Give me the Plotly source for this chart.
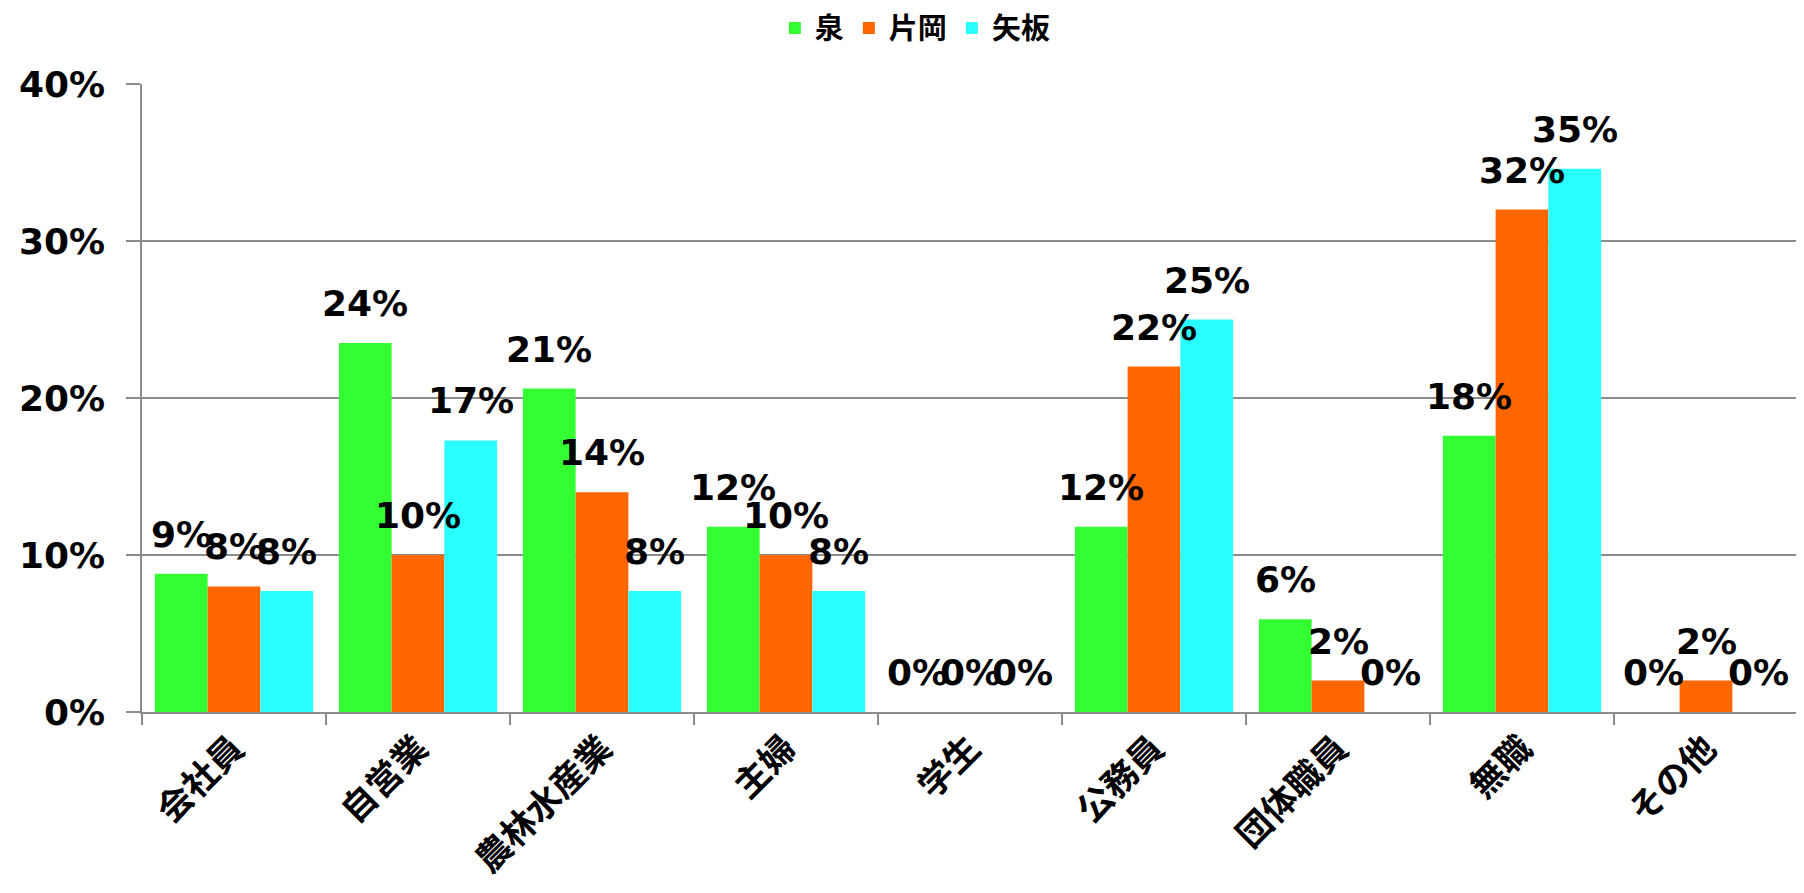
import plotly.graph_objects as go

# occupations (x categories) and share of respondents per area
categories = ["会社員", "自営業", "農林水産業", "主婦", "学生", "公務員", "団体職員", "無職", "その他"]
series_names = ["泉", "片岡", "矢板"]
izumi = [0.088, 0.235, 0.206, 0.118, 0.0, 0.118, 0.059, 0.176, 0.0]
kataoka = [0.08, 0.10, 0.14, 0.10, 0.0, 0.22, 0.02, 0.32, 0.02]
yaita = [0.077, 0.173, 0.077, 0.077, 0.0, 0.25, 0.0, 0.346, 0.0]
y_ticks = [0, 0.1, 0.2, 0.3, 0.4]

COLORS = ["#33FF33", "#FF6600", "#2AFFFF"]
GRID = "#8C8C8C"
LABEL_FONT = dict(family="DejaVu Sans", size=36, color="black", weight="bold")

# the page body has an 8px margin, so the figure is a bit smaller and margins shifted
W, H = 1796, 885
M_L, M_R, M_T, M_B = 134, 6, 76, 181
BARGAP = 0.14
cat_px = (W - M_L - M_R) / len(categories)
bar_px = cat_px * (1 - BARGAP) / len(series_names)

fig = go.Figure()
all_series = [izumi, kataoka, yaita]
for name, vals, color in zip(series_names, all_series, COLORS):
    fig.add_trace(go.Bar(
        name=name,
        x=categories,
        y=vals,
        marker=dict(color=color, line=dict(width=0)),
    ))

# data labels: centred over each bar, lifted a bit like the Excel original
annotations = []
for i, vals in enumerate(all_series):
    for cat, v in zip(categories, vals):
        annotations.append(dict(
            x=cat, y=v, xref="x", yref="y",
            text=f"{round(v * 100):.0f}%",
            showarrow=False,
            xanchor="center", yanchor="bottom",
            xshift=(i - 1) * bar_px, yshift=17,
            font=LABEL_FONT,
        ))

fig.update_layout(
    width=W, height=H,
    margin=dict(l=M_L, r=M_R, t=M_T, b=M_B, autoexpand=False),
    paper_bgcolor="white",
    plot_bgcolor="white",
    barmode="group",
    bargap=BARGAP,
    bargroupgap=0,
    annotations=annotations,
    legend=dict(
        orientation="h",
        x=0.467, xanchor="center",
        y=1.089, yanchor="middle",
        font=dict(family="Noto Sans CJK JP", size=29, color="black", weight="bold"),
        itemwidth=30,
        traceorder="normal",
    ),
)

fig.update_yaxes(
    range=[0, 0.4],
    tickvals=y_ticks,
    tickformat=".0%",
    showgrid=True, gridcolor=GRID, gridwidth=1.5,
    showline=True, linecolor=GRID, linewidth=1.5,
    ticks="outside", ticklen=14, tickcolor=GRID, tickwidth=1.5,
    ticklabelstandoff=14,
    tickfont=dict(family="DejaVu Sans", size=36, color="black", weight="bold"),
    zeroline=False,
    automargin=False,
)
fig.update_xaxes(
    type="category",
    tickangle=-45,
    tickson="boundaries",
    ticks="outside", ticklen=11, tickcolor=GRID, tickwidth=1.5,
    showline=True, linecolor=GRID, linewidth=1.5,
    showgrid=False,
    tickfont=dict(family="Noto Sans CJK JP", size=35, color="black", weight="bold"),
    automargin=False,
)

fig.write_html("out.html")
